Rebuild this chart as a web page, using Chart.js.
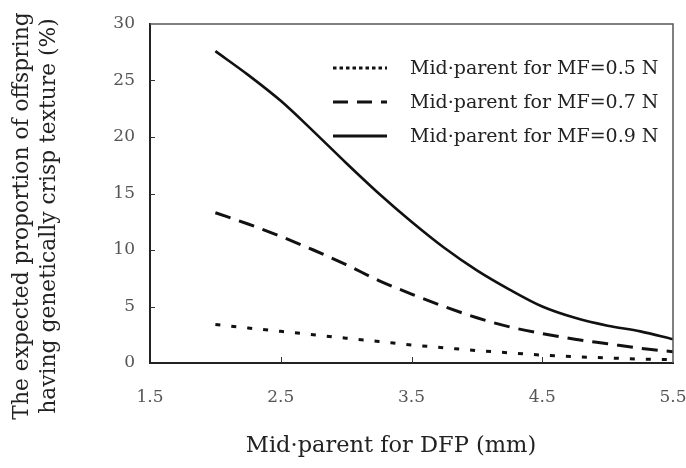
<!DOCTYPE html>
<html>
<head>
<meta charset="utf-8">
<script src="https://cdn.jsdelivr.net/npm/chart.js@4/dist/chart.umd.min.js"></script>
<style>
  html, body { margin: 0; padding: 0; background: #fff; }
</style>
</head>
<body>
<canvas id="stage1" width="686" height="468"></canvas>
<script>
// x: mid-parent DFP (mm), y: expected proportion (%)
const dfp  = [2.0, 2.25, 2.5, 2.75, 3.0, 3.25, 3.5, 3.75, 4.0, 4.25, 4.5, 4.75, 5.0, 5.25, 5.5];
const mf05 = [3.4, 3.1, 2.8, 2.5, 2.2, 1.9, 1.6, 1.35, 1.1, 0.9, 0.7, 0.55, 0.45, 0.35, 0.3];
const mf07 = [13.3, 12.3, 11.2, 10.0, 8.7, 7.3, 6.1, 5.0, 4.0, 3.2, 2.6, 2.1, 1.7, 1.3, 1.0];
const mf09 = [27.6, 25.5, 23.2, 20.5, 17.7, 15.0, 12.5, 10.2, 8.2, 6.5, 5.0, 4.0, 3.3, 2.8, 2.1];

const seriesLabels = ['Mid·parent for MF=0.5 N', 'Mid·parent for MF=0.7 N', 'Mid·parent for MF=0.9 N'];
const xTicks = [1.5, 2.5, 3.5, 4.5, 5.5];
const yTicks = [0, 5, 10, 15, 20, 25, 30];
const xTitle = 'Mid·parent for DFP (mm)';
const yTitle = ['The expected proportion of offspring', 'having genetically crisp texture (%)'];

const serif = '"DejaVu Serif", "Liberation Serif", serif';
const dashes = [[5, 11], [16, 9], []];
const legendDashes = [[3.5, 3], [15, 9], []];

function toPoints(ys) {
  return dfp.map((x, i) => ({x: x, y: ys[i]}));
}

function line(ctx, x1, y1, x2, y2) {
  ctx.beginPath();
  ctx.moveTo(x1, y1);
  ctx.lineTo(x2, y2);
  ctx.stroke();
}

// frame, inward ticks, legend and axis titles
const decor = {
  id: 'decor',
  afterDraw(chart) {
    const ctx = chart.ctx, a = chart.chartArea;
    const xs = chart.scales.x, ys = chart.scales.y;
    ctx.save();
    ctx.strokeStyle = '#555';
    ctx.lineWidth = 1.5;
    ctx.beginPath();
    ctx.moveTo(a.left, a.top);
    ctx.lineTo(a.right, a.top);
    ctx.lineTo(a.right, a.bottom);
    ctx.stroke();

    ctx.strokeStyle = '#333';
    ctx.lineWidth = 1;
    yTicks.slice(1, -1).forEach(v => {
      const p = Math.round(ys.getPixelForValue(v)) + 0.5;
      line(ctx, a.left, p, a.left + 5, p);
    });
    xTicks.slice(1, -1).forEach(v => {
      const p = Math.round(xs.getPixelForValue(v)) + 0.5;
      line(ctx, p, a.bottom, p, a.bottom - 6);
    });

    // legend
    ctx.font = '19px ' + serif;
    ctx.fillStyle = '#222';
    ctx.textBaseline = 'middle';
    ctx.textAlign = 'left';
    chart.data.datasets.forEach((ds, i) => {
      const y = 68 + i * 34;
      ctx.strokeStyle = '#111';
      ctx.lineWidth = 3;
      ctx.setLineDash(legendDashes[i]);
      line(ctx, 333, y, 387, y);
      ctx.setLineDash([]);
      ctx.fillText(ds.label, 410, y + 1);
    });

    // axis titles
    ctx.textAlign = 'center';
    ctx.textBaseline = 'alphabetic';
    ctx.font = '22.5px ' + serif;
    ctx.fillText(xTitle, 391, 452);
    ctx.font = '21.8px ' + serif;
    yTitle.forEach((t, i) => {
      ctx.save();
      ctx.translate(28 + i * 27, 216);
      ctx.rotate(-Math.PI / 2);
      ctx.fillText(t, 0, 0);
      ctx.restore();
    });
    ctx.restore();
  }
};

const chart = new Chart(document.getElementById('stage1'), {
  type: 'line',
  data: {
    datasets: [mf05, mf07, mf09].map((ys, i) => ({
      label: seriesLabels[i],
      data: toPoints(ys),
      borderColor: '#111',
      borderWidth: i === 2 ? 2.6 : 3,
      borderDash: dashes[i],
      pointRadius: 0,
      fill: false,
      cubicInterpolationMode: 'monotone'
    }))
  },
  options: {
    responsive: false,
    animation: false,
    devicePixelRatio: 1,
    layout: { padding: { top: 24, right: 13, left: 0, bottom: 0 } },
    plugins: {
      legend: { display: false },
      tooltip: { enabled: false }
    },
    scales: {
      x: {
        type: 'linear',
        min: 1.5,
        max: 5.5,
        afterBuildTicks: s => { s.ticks = xTicks.map(v => ({value: v})); },
        afterFit: s => { s.height = 105; s.paddingLeft = 0; s.paddingRight = 0; },
        grid: { display: false, drawTicks: false },
        border: { display: true, color: '#222', width: 2 },
        ticks: {
          padding: 24,
          color: '#555',
          font: { family: serif, size: 17 },
          callback: v => v.toFixed(1)
        }
      },
      y: {
        min: 0,
        max: 30,
        afterBuildTicks: s => { s.ticks = yTicks.map(v => ({value: v})); },
        afterFit: s => { s.width = 150; s.paddingTop = 0; s.paddingBottom = 0; },
        grid: { display: false, drawTicks: false },
        border: { display: true, color: '#222', width: 2 },
        ticks: {
          padding: 15,
          color: '#555',
          font: { family: serif, size: 17 }
        }
      }
    }
  },
  plugins: [decor]
});
</script>
</body>
</html>
